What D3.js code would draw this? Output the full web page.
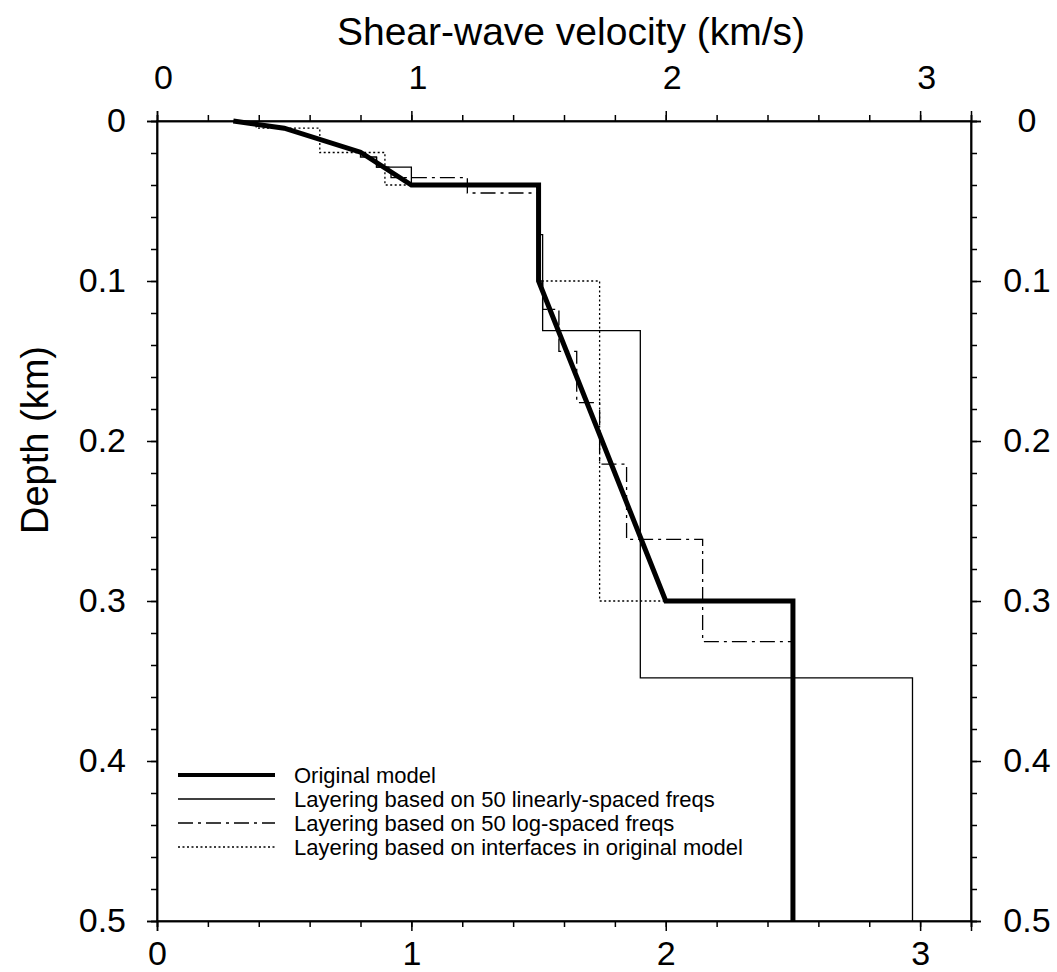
<!DOCTYPE html>
<html>
<head>
<meta charset="utf-8">
<script src="https://cdn.jsdelivr.net/npm/d3@7"></script>
<style>
  body { margin: 0; background: #fff; }
  svg { font-family: "Liberation Sans", Arial, Helvetica, sans-serif; }
</style>
</head>
<body>
<svg id="chart" width="1057" height="972"></svg>
<script>
// original velocity model (km/s vs km)
const origV = [0.3, 0.5, 0.8, 1.0, 1.5, 1.5, 2.0, 2.5, 2.5];
const origZ = [0, 0.0045, 0.0195, 0.04, 0.04, 0.1, 0.3, 0.3, 0.5];

// layered models: layer tops + velocities, last layer goes to bottom
const linTop = [0.019, 0.0225, 0.0288, 0.04, 0.071, 0.131, 0.348];
const linV   = [0.8, 0.863, 1.0, 1.5, 1.516, 1.9, 2.97];

const logTop = [0.0225, 0.0288, 0.0354, 0.045, 0.1, 0.1177, 0.144, 0.176, 0.2144, 0.2615, 0.3254];
const logV   = [0.863, 0.92, 1.22, 1.5, 1.516, 1.58, 1.65, 1.74, 1.846, 2.145, 2.5];

const intTop = [0, 0.0045, 0.0197, 0.04, 0.1, 0.3];
const intV   = [0.39, 0.64, 0.896, 1.5, 1.74, 2.5];

const zBottom = 0.5;

const legendLabels = [
  "Original model",
  "Layering based on 50 linearly-spaced freqs",
  "Layering based on 50 log-spaced freqs",
  "Layering based on interfaces in original model"
];

const majorX = [0, 1, 2, 3];
const majorY = [0, 0.1, 0.2, 0.3, 0.4, 0.5];

const styles = [
  {w: 5, dash: null},
  {w: 1.3, dash: null},
  {w: 1.3, dash: "15,5,3,5"},
  {w: 1.3, dash: "2,2.5"}
];

const m = {left: 157, top: 121, right: 86, bottom: 51};
const W = 1057 - m.left - m.right, H = 972 - m.top - m.bottom;

const x = d3.scaleLinear().domain([0, 3.2]).range([0, W]);
const y = d3.scaleLinear().domain([0, 0.5]).range([0, H]);

const svg = d3.select("#chart");
const g = svg.append("g").attr("transform", "translate(" + m.left + "," + m.top + ")");

function steps(tops, vs){
  let pts = [];
  for (let i = 0; i < vs.length; i++) {
    let bot = (i < tops.length - 1) ? tops[i + 1] : zBottom;
    pts.push([vs[i], tops[i]]);
    pts.push([vs[i], bot]);
  }
  return pts;
}

const line = d3.line().x(d => x(d[0])).y(d => y(d[1]));

const series = [
  origV.map((v, i) => [v, origZ[i]]),
  steps(linTop, linV),
  steps(logTop, logV),
  steps(intTop, intV)
];

// draw thin ones first, thick on top
[3, 2, 1, 0].forEach(k => {
  g.append("path")
    .attr("d", line(series[k]))
    .attr("fill", "none")
    .attr("stroke", "#000")
    .attr("stroke-width", styles[k].w)
    .attr("stroke-dasharray", styles[k].dash)
    .attr("stroke-linejoin", "miter");
});

// axes
const minorX = d3.range(0, 3.201, 0.2);
const minorY = d3.range(0, 0.501, 0.02);

function axisPair(axisFn, scale, major, minor, fmt){
  let a1 = axisFn(scale).tickValues(minor).tickSize(6).tickFormat("");
  let a2 = axisFn(scale).tickValues(major).tickSize(10).tickFormat(fmt).tickPadding(8);
  return [a1, a2];
}

const fmtX = d3.format("d");
const fmtY = d => d === 0 ? "0" : d3.format(".1f")(d);

const axB = g.append("g").attr("transform", "translate(0," + H + ")");
axisPair(d3.axisBottom, x, majorX, minorX, fmtX).forEach(a => axB.append("g").call(a));

const axT = g.append("g");
axisPair(d3.axisTop, x, majorX, minorX, fmtX).forEach(a => axT.append("g").call(a));
axT.selectAll("text").attr("dx", 6).attr("y", -32);

const axL = g.append("g");
axisPair(d3.axisLeft, y, majorY, minorY, fmtY).forEach(a => axL.append("g").call(a));
axL.selectAll("text").attr("x", -31);

const axR = g.append("g").attr("transform", "translate(" + W + ",0)");
axisPair(d3.axisRight, y, majorY, minorY, fmtY).forEach(a => axR.append("g").call(a));
axR.selectAll("text").attr("x", 56).attr("text-anchor", "middle");

g.selectAll(".domain").attr("stroke", "#000").attr("stroke-width", 1.5);
g.selectAll(".tick line").attr("stroke", "#000").attr("stroke-width", 1.5);
g.selectAll(".tick text")
  .attr("fill", "#000")
  .style("font-size", "34px")
  .style("font-family", "'Liberation Sans', Arial, sans-serif");
axB.selectAll("text").attr("y", 20);

// border box
g.append("rect").attr("width", W).attr("height", H)
  .attr("fill", "none").attr("stroke", "#000").attr("stroke-width", 1.5);

// titles
svg.append("text")
  .attr("x", 571).attr("y", 45)
  .attr("text-anchor", "middle")
  .style("font-size", "39px")
  .text("Shear-wave velocity (km/s)");

svg.append("text")
  .attr("transform", "translate(48,440) rotate(-90)")
  .attr("text-anchor", "middle")
  .style("font-size", "38px")
  .text("Depth (km)");

// legend
const leg = g.append("g").attr("transform", "translate(21,654)");
legendLabels.forEach((lab, i) => {
  let row = leg.append("g").attr("transform", "translate(0," + (i * 24) + ")");
  row.append("line")
    .attr("x1", 0).attr("x2", 97)
    .attr("stroke", "#000")
    .attr("stroke-width", styles[i].w === 5 ? 4 : 1.3)
    .attr("stroke-dasharray", styles[i].dash);
  row.append("text")
    .attr("x", 116).attr("dy", "0.35em")
    .style("font-size", "22px")
    .text(lab);
});
</script>
</body>
</html>
